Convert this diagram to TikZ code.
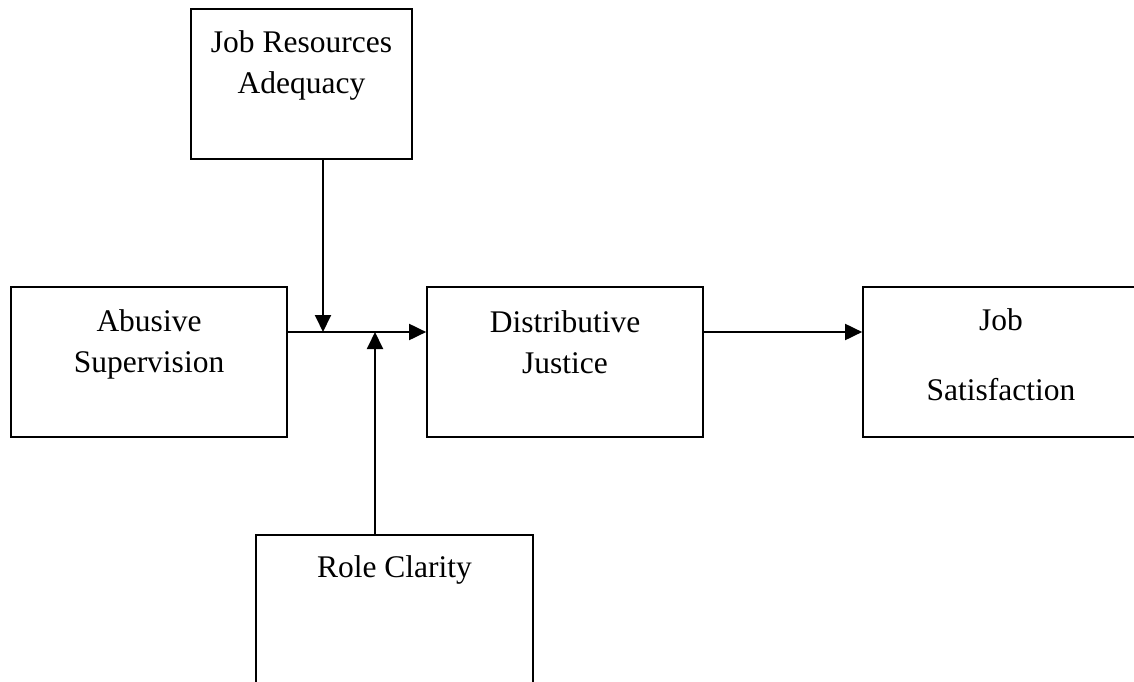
\documentclass[tikz,border=0pt]{standalone}
\usepackage{fontspec}
\setmainfont{Liberation Serif}
\usetikzlibrary{arrows.meta}
\tikzset{
  box/.style={draw, line width=1.7pt, minimum width=#1, minimum height=150pt, inner sep=0pt},
  box/.default=276pt,
  txt/.style={align=center, inner sep=0pt, font=\fontsize{31.5}{41}\selectfont},
  arr/.style={line width=1.9pt, -{Triangle[length=17pt,width=16pt]}}
}
\begin{document}
\begin{tikzpicture}[x=1pt,y=-1pt]
\useasboundingbox (0,0) rectangle (1134,682);
\node[box=221pt] (jra) at (301.5,84) {};
\node[box] (abu) at (149,362) {};
\node[box] (dj) at (565,362) {};
\node[box] (js) at (1001,362) {};
\node[box=277pt] (rc) at (394.5,610) {};
\node[txt] (jraT) at ([yshift=-57.5pt]jra.north) {Job Resources\\Adequacy};
\node[txt] (abuT) at ([yshift=-58pt]abu.north) {Abusive\\Supervision};
\node[txt] (djT) at ([yshift=-56pt]dj.north) {Distributive\\Justice};
\node[txt] (jsT) at ([yshift=-69pt]js.north) {Job\\[29pt]Satisfaction};
\node[txt] (rcT) at ([yshift=-36pt]rc.north) {Role Clarity};
% moderators meet the main path
\coordinate (m1) at (323,332);
\coordinate (m2) at (375,332);
\draw[arr] ([yshift=30pt]abu.east) -- ([yshift=30pt]dj.west);
\draw[arr] (jra.south -| m1) -- (m1);
\draw[arr] (rc.north -| m2) -- (m2);
\draw[arr] ([yshift=30pt]dj.east) -- ([yshift=30pt]js.west);
\end{tikzpicture}
\end{document}
